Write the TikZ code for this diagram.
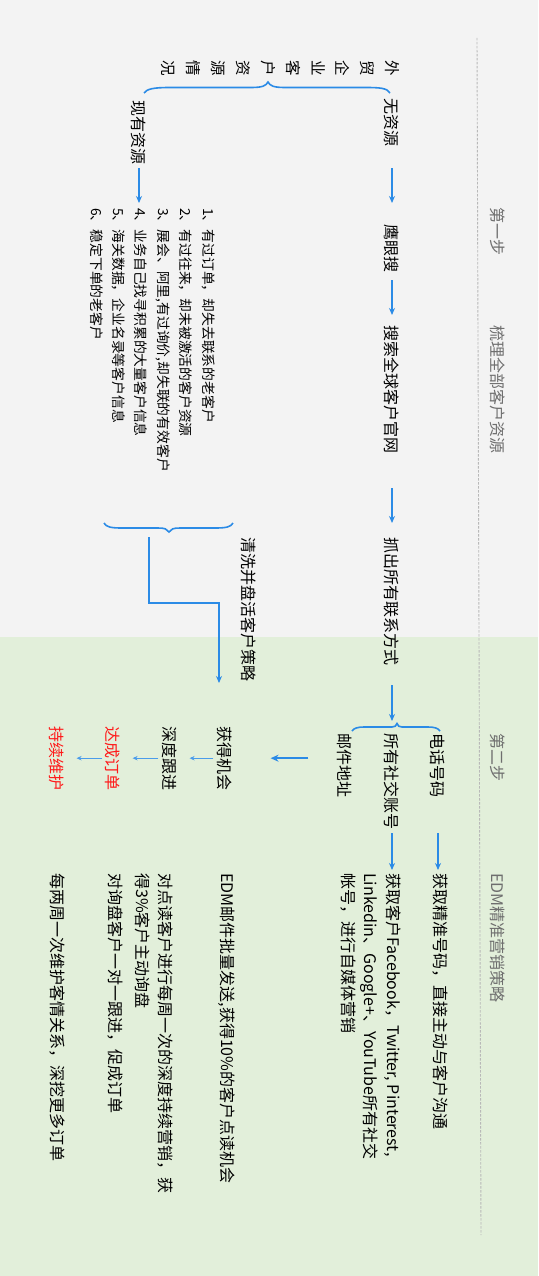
\documentclass[tikz,border=0pt]{standalone}
\usepackage{fontspec}
\setmainfont{Noto Sans CJK SC}
\usetikzlibrary{arrows.meta}
\definecolor{bggray}{HTML}{F3F3F3}
\definecolor{bggreen}{HTML}{E2EFDA}
\definecolor{lineblue}{HTML}{2B8BE6}
\definecolor{headgray}{HTML}{6E6E6E}
\definecolor{dashgray}{HTML}{B8B8B8}
\definecolor{hotred}{HTML}{FF1A1A}
\begin{document}
\begin{tikzpicture}[x=1pt,y=-1pt,
 lbl/.style={rotate=-90,inner sep=0pt,anchor=west,font=\fontsize{16}{22.5}\selectfont},
 headlbl/.style={lbl,text=headgray},
 redlbl/.style={lbl,text=hotred},
 parlbl/.style={lbl,anchor=north west,align=left},
 listlbl/.style={parlbl,font=\fontsize{13.8}{22.4}\selectfont},
 charcol/.style={parlbl,align=center,font=\fontsize{15.5}{24.9}\selectfont},
 arr/.style={draw=lineblue,line width=1.6pt,-{Stealth[length=7pt,width=6pt]}},
 thinarr/.style={draw=lineblue!85,line width=1.1pt,-{Stealth[length=5pt,width=4.5pt]}},
 bigarr/.style={draw=lineblue,line width=2pt,-{Stealth[length=8pt,width=7pt]}},
 bracestyle/.style={draw=lineblue,line width=1.6pt},
 sep/.style={draw=dashgray,line width=0.9pt,dash pattern=on 2.5pt off 1.5pt}
]
\useasboundingbox (0,0) rectangle (538,1276);
\fill[bggray] (0,0) rectangle (538,637);
\fill[bggreen] (0,637) rectangle (538,1276);
\draw[sep] (477,38) -- (481,1235);

% headers
\node[headlbl] (h1) at (498,207) {第一步};
\node[headlbl] (h2) at (498,325) {梳理全部客户资源};
\node[headlbl] (h3) at (498,733) {第二步};
\node[headlbl] (h4) at (498,873) {EDM精准营销策略};

% top title and brace
\node[charcol] (title) at (400,60) {外\\贸\\企\\业\\客\\户\\资\\源\\情\\况};
\draw[bracestyle] (390,93) .. controls (387,88) and (380,87.5) .. (365,87.5) -- (285,87.5)
  .. controls (274,87.5) and (270,86) .. (268,82) .. controls (266,86) and (262,87.5) .. (251,87.5)
  -- (170,87.5) .. controls (153,87.5) and (147,89) .. (144,93);

% left-hand path (no resources)
\node[lbl] (wzy) at (392,98) {无资源};
\node[lbl] (yys) at (392,224) {鹰眼搜};
\node[lbl] (ss) at (392,325) {搜索全球客户官网};
\node[lbl] (zc) at (392,537) {抓出所有联系方式};
\draw[arr,shorten <=22pt,shorten >=21pt] (wzy) -- (yys);
\draw[arr,shorten <=8pt,shorten >=10pt] (yys) -- (ss);
\draw[arr,shorten <=35pt,shorten >=14pt] (ss) -- (zc);

\coordinate (b2tip) at (392,722);
\draw[arr,shorten <=20pt,shorten >=1pt] (zc) -- (b2tip);
\draw[bracestyle] (440,731) .. controls (438,728) and (434,727) .. (428,727) -- (402,727)
  .. controls (399,727) and (398,726) .. (397,723.5) .. controls (396,726) and (395,727) .. (392,727)
  -- (364,727) .. controls (358,727) and (354,728) .. (352,731);

\node[lbl] (dh) at (438,733) {电话号码};
\node[lbl] (sj) at (392,733) {所有社交账号};
\node[lbl] (yj) at (345,733) {邮件地址};

\node[lbl] (jq) at (440,873) {获取精准号码，直接主动与客户沟通};
\node[parlbl] (sm) at (401,873) {获取客户Facebook，Twitter, Pinterest,\\Linkedin、Google+、YouTube所有社交\\帐号，进行自媒体营销};
\draw[arr,shorten <=36pt,shorten >=3pt] (dh.east) -- (dh.east |- jq.west);
\draw[arr,shorten <=4pt,shorten >=3pt] (sj.east) -- (sj.east |- sm.north west);

% existing resources
\node[lbl] (xy) at (139,100) {现有资源};
\node[listlbl] (list) at (215,208) {1、有过订单，却失去联系的老客户\\2、有过往来，却未被激活的客户资源\\3、展会、阿里,有过询价,却失联的有效客户\\4、业务自己找寻积累的大量客户信息\\5、海关数据，企业名录等客户信息\\6、稳定下单的老客户};
\draw[arr,shorten <=4pt,shorten >=5pt] (xy.east) -- (xy.east |- list.north west);
\draw[bracestyle] (233,523) .. controls (231,527) and (226,528) .. (215,528) -- (180,528)
  .. controls (173,528) and (171,529) .. (169,532) .. controls (167,529) and (165,528) .. (158,528)
  -- (122,528) .. controls (111,528) and (106,527) .. (104,523);
\node[lbl] (qx) at (249,537) {清洗并盘活客户策略};
\coordinate (c1) at (149,537);
\coordinate (c2) at (219,683);
\draw[arr] (c1) -- ++(0,66) -| (c2);

% second step chain
\node[lbl] (hd) at (225,726) {获得机会};
\node[lbl] (sd) at (170,726) {深度跟进};
\node[redlbl] (dc) at (113,726) {达成订单};
\node[redlbl] (cx) at (57,726) {持续维护};
\draw[bigarr,shorten <=29pt,shorten >=38pt] (yj.south |- hd.north) -- (hd.north);
\draw[thinarr,shorten <=4pt,shorten >=12pt] (hd) -- (sd);
\draw[thinarr,shorten <=4pt,shorten >=12pt] (sd) -- (dc);
\draw[thinarr,shorten <=3pt,shorten >=12pt] (dc) -- (cx);

\node[lbl] (edm) at (227,873) {EDM邮件批量发送,获得10\%的客户点读机会};
\node[parlbl] (dd) at (173,873) {对点读客户进行每周一次的深度持续营销，获\\得3\%客户主动询盘};
\node[lbl] (xp) at (115,873) {对询盘客户一对一跟进，促成订单};
\node[lbl] (wh) at (57,873) {每两周一次维护客情关系，深挖更多订单};
\end{tikzpicture}
\end{document}
